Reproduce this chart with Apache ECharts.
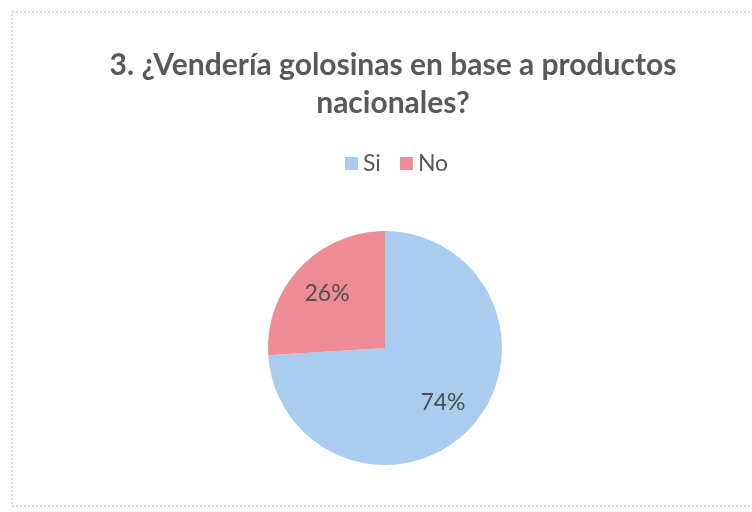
<!DOCTYPE html>
<html>
<head>
<meta charset="utf-8">
<script src="https://cdn.jsdelivr.net/npm/echarts@6/dist/echarts.min.js"></script>
<style>
  html, body { margin: 0; padding: 0; background: #ffffff; }
  #chart { width: 752px; height: 512px; }
</style>
</head>
<body>
<div id="chart"></div>
<script>
// Survey answers, question 3
const titleText = '3. ¿Vendería golosinas en base a productos\nnacionales?';
const categories = ['Si', 'No'];
const shares = [74, 26];
const sliceColors = ['#a9ccef', '#ef8b94'];

const chart = echarts.init(document.getElementById('chart'));

const pieData = categories.map((name, i) => ({
  name: name,
  value: shares[i],
  itemStyle: { color: sliceColors[i] }
}));

const center = [385, 348];
const radius = 117;

chart.setOption({
  backgroundColor: '#ffffff',
  animation: false,
  title: {
    text: titleText,
    left: 388,
    textAlign: 'center',
    top: 41,
    textStyle: {
      fontFamily: 'Lato',
      fontWeight: 'bold',
      fontSize: 30,
      lineHeight: 38,
      color: '#595959'
    }
  },
  legend: {
    data: categories,
    top: 147,
    left: 340,
    itemWidth: 13,
    itemHeight: 13,
    itemGap: 19,
    icon: 'rect',
    textStyle: { fontFamily: 'Lato', fontSize: 23, color: '#595959' }
  },
  graphic: [{
    type: 'rect',
    shape: { x: 12, y: 12, width: 760, height: 494 },
    style: { fill: 'none', stroke: '#e3c9cc', lineWidth: 1.5, lineDash: [2, 2] },
    silent: true
  }],
  series: [
    {
      name: 'Respuestas',
      type: 'pie',
      center: center,
      radius: [0, radius],
      startAngle: 90,
      clockwise: true,
      label: { show: false },
      labelLine: { show: false },
      data: pieData
    },
    {
      // transparent ring used only to place percentage labels further out
      name: 'Etiquetas',
      type: 'pie',
      center: center,
      radius: [36, radius],
      startAngle: 90,
      clockwise: true,
      silent: true,
      itemStyle: { color: 'rgba(0,0,0,0)' },
      label: {
        show: true,
        position: 'inside',
        formatter: '{c}%',
        fontFamily: 'Lato',
        fontSize: 23,
        color: '#505050'
      },
      labelLine: { show: false },
      data: categories.map((name, i) => ({ name: name, value: shares[i] }))
    }
  ]
});
</script>
</body>
</html>
